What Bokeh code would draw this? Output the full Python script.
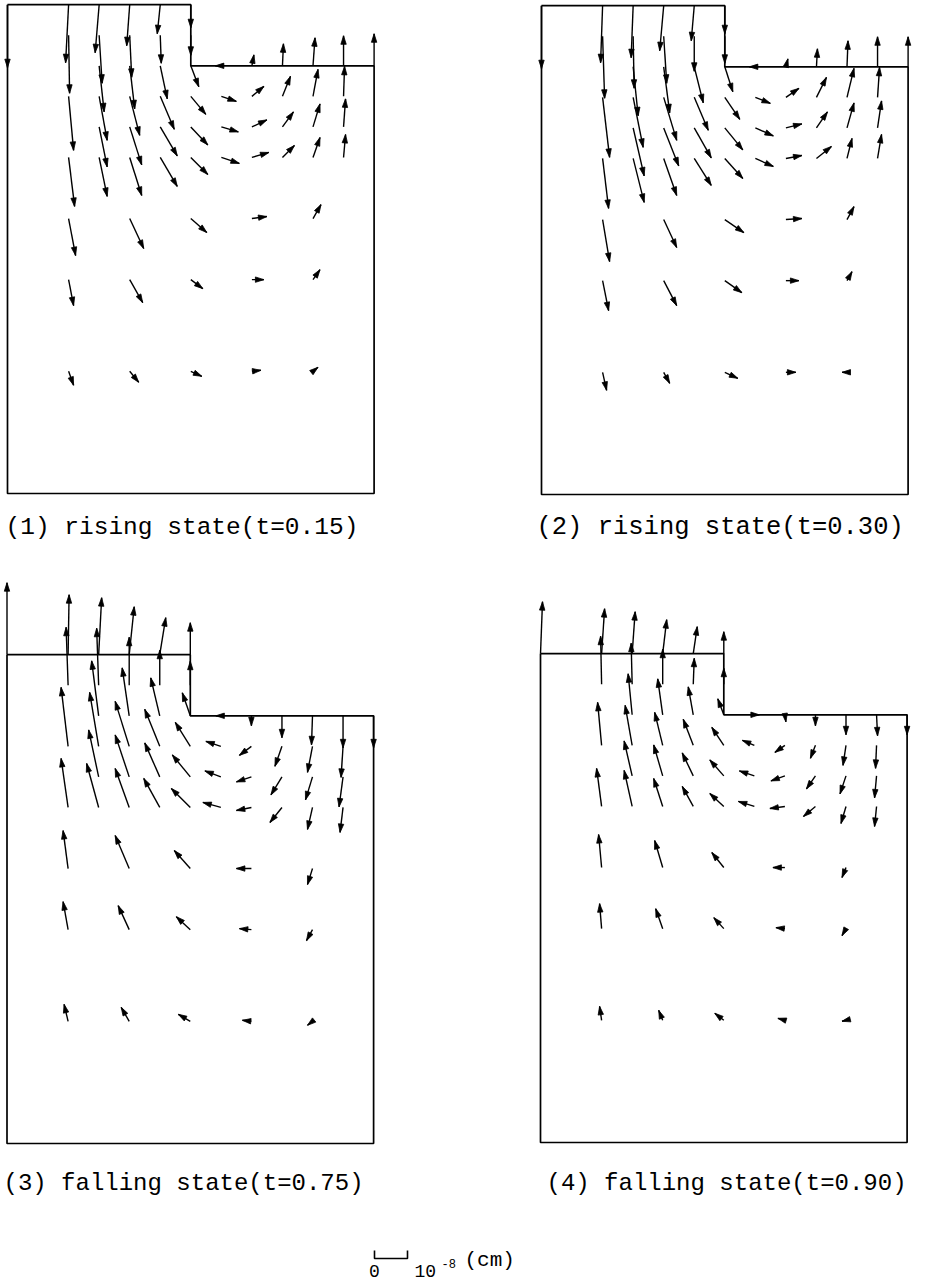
import math

from bokeh.plotting import figure
from bokeh.models import Range1d, ColumnDataSource
from bokeh.core.properties import value
from bokeh.embed import file_html
from bokeh.resources import INLINE

# ---------------------------------------------------------------------------
# Mesh nodes, in cell units: x measured from the left wall (0..12),
# y measured from the bottom (0..16).  Left surface at y=16, right surface at
# y=14, step at x=6.
# ---------------------------------------------------------------------------
NODE_X = ([0] + [2] * 7 + [3] * 6 + [4] * 9 + [5] * 6 + [6] * 9 +
          [7] * 4 + [8] * 7 + [9] * 4 + [10] * 7 + [11] * 4 + [12])
NODE_Y = ([16] +
          [16, 15, 13, 11, 9, 7, 4] +
          [16, 15, 14, 13, 12, 11] +
          [16, 15, 14, 13, 12, 11, 9, 7, 4] +
          [16, 15, 14, 13, 12, 11] +
          [16, 15, 14, 13, 12, 11, 9, 7, 4] +
          [14, 13, 12, 11] +
          [14, 13, 12, 11, 9, 7, 4] +
          [14, 13, 12, 11] +
          [14, 13, 12, 11, 9, 7, 4] +
          [14, 13, 12, 11] +
          [14])

# Container outline (cell units)
OUTLINE_X = [0, 0, 12, 12, 6, 6, 0]
OUTLINE_Y = [16, 0, 0, 14, 14, 16, 16]

# Velocity components per node (u to the right, v upward).
# VEL_PER_CELL velocity units make an arrow one mesh cell long;
# BAR_VALUE velocity units correspond to 10^-8 cm.
VEL_PER_CELL = 30.55
BAR_VALUE = 33

# (1) rising state, t = 0.15
U1 = [0,
      -3, 1, 5, 6, 7, 5, 5,
      -4, 3, 5, 8, 8, 8,
      -3, 2, 5, 10, 12, 12, 14, 13, 9,
      -3, 1, 7, 14, 17, 17,
      0, 0, 8, 15, 17, 17, 16, 12, 11,
      -6, 15, 17, 18,
      2, 12, 15, 17, 15, 12, 9,
      1, 8, 11, 12,
      2, 5, 7, 7, 8, 7, 5,
      0, 1, 2, 2,
      0]
V1 = [-63,
      -58, -58, -54, -49, -37, -26, -14,
      -48, -48, -46, -44, -40, -39,
      -41, -42, -43, -39, -38, -38, -30, -23, -11,
      -29, -28, -33, -33, -29, -29,
      -23, -20, -21, -18, -18, -17, -14, -9, -5,
      0, -5, -5, -6,
      11, 10, 7, 5, 2, 0, 1,
      22, 20, 15, 12,
      28, 27, 23, 20, 14, 10, 4,
      30, 30, 28, 23,
      32]

# (2) rising state, t = 0.30
U2 = [0,
      -2, 2, 7, 6, 7, 6, 4,
      -2, 1, 5, 10, 11, 11,
      -4, 3, 6, 13, 15, 13, 13, 13, 6,
      -3, 0, 9, 14, 17, 17,
      0, 0, 8, 15, 18, 18, 19, 17, 13,
      -6, 15, 18, 18,
      2, 13, 16, 16, 16, 13, 10,
      1, 10, 11, 15,
      1, 7, 7, 5, 7, 5, -5,
      0, 2, 4, 4,
      0]
V2 = [-63,
      -57, -62, -60, -50, -42, -30, -18,
      -52, -52, -49, -50, -48, -44,
      -45, -47, -46, -43, -38, -37, -28, -25, -11,
      -35, -35, -36, -33, -30, -27,
      -28, -27, -25, -22, -22, -20, -13, -12, -6,
      0, -6, -8, -8,
      8, 9, 4, 3, 1, 0, 0,
      18, 20, 16, 12,
      26, 29, 25, 20, 13, 9, 0,
      30, 30, 27, 24,
      30]

# (3) falling state, t = 0.75
U3 = [0,
      1, -2, -7, -7, -5, -5, -4,
      3, -2, -7, -9, -10, -12,
      5, 0, -7, -14, -14, -14, -14, -11, -8,
      6, 0, -9, -15, -15, -16,
      0, 0, -8, -15, -18, -19, -16, -14, -12,
      -5, -15, -16, -18,
      0, -12, -15, -15, -15, -12, -9,
      0, -7, -11, -12,
      -1, -5, -7, -5, -5, -6, -5,
      0, -2, -4, -3,
      0]
V3 = [72,
      60, 58, 59, 49, 38, 28, 17,
      57, 57, 55, 54, 47, 44,
      48, 48, 48, 45, 42, 39, 33, 24, 14,
      37, 35, 38, 37, 34, 29,
      32, 24, 23, 24, 22, 19, 18, 13, 7,
      0, 5, 6, 5,
      -10, -9, -5, -3, 0, 1, 1,
      -22, -20, -18, -15,
      -29, -26, -23, -22, -16, -11, -4,
      -32, -31, -30, -25,
      -32]

# (4) falling state, t = 0.90
U4 = [2,
      3, -1, -4, -5, -3, -2, -2,
      3, -1, -4, -7, -8, -8,
      4, 0, -5, -8, -9, -9, -8, -7, -4,
      4, 1, -5, -10, -11, -11,
      0, 0, -6, -12, -14, -14, -12, -10, -9,
      5, -12, -15, -16,
      1, -10, -14, -15, -12, -9, -7,
      0, -5, -9, -12,
      0, -3, -6, -5, -4, -4, -4,
      1, -1, -2, -2,
      0]
V4 = [52,
      45, 48, 43, 38, 33, 25, 14,
      42, 41, 41, 40, 35, 36,
      34, 35, 36, 33, 31, 28, 27, 20, 10,
      27, 26, 28, 26, 23, 20,
      22, 16, 16, 18, 16, 13, 15, 11, 7,
      0, 5, 5, 5,
      -7, -7, -5, -2, 0, 1, 2,
      -11, -13, -13, -10,
      -20, -20, -18, -17, -10, -7, -1,
      -21, -23, -22, -20,
      -20]

CAPTIONS = ["(1) rising state(t=0.15)", "(2) rising state(t=0.30)",
            "(3) falling state(t=0.75)", "(4) falling state(t=0.90)"]
FIELDS = [(U1, V1), (U2, V2), (U3, V3), (U4, V4)]

# ---------------------------------------------------------------------------
# Page layout
# ---------------------------------------------------------------------------
PAGE_W, PAGE_H = 927, 1285
S = 30.55                      # pixels per mesh cell
HEAD_LEN = 8.5 / S             # arrow head length (cells)
HEAD_HALF = 2.7 / S            # arrow head half width (cells)


def cx(px):
    return px / S


def cy(py):
    return (PAGE_H - py) / S


# lower-left corner of each panel; caption anchor (left, middle) and size
PANEL_ORIGIN = [(7, 493), (541, 494), (6.5, 1143), (540, 1142)]
CAPTION_AT = [(5, 527), (536, 527), (3, 1183), (546, 1183)]
CAPTION_SIZE = ["24.5px", "25.5px", "24px", "24px"]

FONT = value("Liberation Mono")
INK = "black"

p = figure(width=PAGE_W, height=PAGE_H,
           x_range=Range1d(0, PAGE_W / S), y_range=Range1d(0, PAGE_H / S),
           output_backend="svg", toolbar_location=None,
           x_axis_type=None, y_axis_type=None, min_border=0,
           outline_line_color=None, background_fill_color="white",
           border_fill_color="white")
p.xgrid.visible = False
p.ygrid.visible = False


def head_polygon(xa, ya, xb, yb):
    """Filled, slender triangular head with its tip at (xb, yb)."""
    dx, dy = xb - xa, yb - ya
    n = math.hypot(dx, dy) or 1.0
    ex, ey = dx / n, dy / n
    bx, by = xb - ex * HEAD_LEN, yb - ey * HEAD_LEN
    return ([xb, bx - ey * HEAD_HALF, bx + ey * HEAD_HALF],
            [yb, by + ex * HEAD_HALF, by - ex * HEAD_HALF])


for k, ((ox, oy), (u, v)) in enumerate(zip(PANEL_ORIGIN, FIELDS)):
    x0, y0 = cx(ox), cy(oy)
    p.line([x0 + x for x in OUTLINE_X], [y0 + y for y in OUTLINE_Y],
           line_color=INK, line_width=1.7)

    xs = [x0 + x for x in NODE_X]
    ys = [y0 + y for y in NODE_Y]
    xe = [a + du / VEL_PER_CELL for a, du in zip(xs, u)]
    ye = [b + dv / VEL_PER_CELL for b, dv in zip(ys, v)]
    p.segment(x0="x0", y0="y0", x1="x1", y1="y1",
              source=ColumnDataSource(dict(x0=xs, y0=ys, x1=xe, y1=ye)),
              line_color=INK, line_width=1.4)
    heads = [head_polygon(a, b, c, d) for a, b, c, d in zip(xs, ys, xe, ye)]
    p.patches(xs=[h[0] for h in heads], ys=[h[1] for h in heads],
              fill_color=INK, line_color=INK, line_width=0.8)

    tx, ty = CAPTION_AT[k]
    p.text(x=[cx(tx)], y=[cy(ty)], text=[CAPTIONS[k]],
           text_font=FONT, text_font_size=CAPTION_SIZE[k],
           text_baseline="middle", text_align="left", text_color=INK)

# Reference bar: BAR_VALUE velocity units = 10^-8 cm
bx, by = cx(374), cy(1258)
blen = BAR_VALUE / VEL_PER_CELL
tick = 8 / S
p.line([bx, bx, bx + blen, bx + blen], [by + tick, by, by, by + tick],
       line_color=INK, line_width=1.6)
p.text(x=[bx], y=[cy(1270)], text=["0"], text_font=FONT, text_color=INK,
       text_font_size="18px", text_baseline="middle", text_align="center")
p.text(x=[cx(414)], y=[cy(1270)], text=["10"], text_font=FONT, text_color=INK,
       text_font_size="18px", text_baseline="middle", text_align="left")
p.text(x=[cx(441)], y=[cy(1263)], text=["-8"], text_font=FONT, text_color=INK,
       text_font_size="12px", text_baseline="middle", text_align="left")
p.text(x=[cx(464)], y=[cy(1260)], text=["(cm)"], text_font=FONT,
       text_color=INK, text_font_size="21px", text_baseline="middle",
       text_align="left")

open("out.html", "w").write(file_html(p, INLINE))
